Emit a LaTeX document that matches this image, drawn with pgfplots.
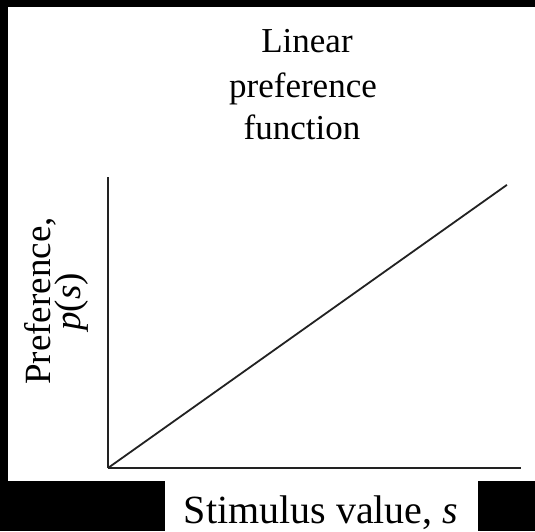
\documentclass[border=0pt]{standalone}
\usepackage{pgfplots}
\pgfplotsset{compat=1.18}
\usepackage{fontspec}
\setmainfont{Liberation Serif}
\definecolor{ink}{HTML}{222222}
\begin{document}
\begin{tikzpicture}[x=1pt,y=1pt]
\useasboundingbox (0,0) rectangle (535,531);
\fill[black] (0,0) rectangle (535,531);
\fill[white] (8,50) rectangle (535,524);
\fill[white] (165,0) rectangle (478,50);
\begin{axis}[
  at={(108pt,63pt)}, anchor=origin,
  scale only axis, width=413pt, height=291pt,
  xmin=0, xmax=1, ymin=0, ymax=1,
  axis x line=bottom, axis y line=left,
  axis line style={-, draw=ink, line width=2pt},
  xtick=\empty, ytick=\empty,
  clip=false,
]
\addplot[ink, line width=1.8pt] coordinates {(0,0) (0.966,0.973)};
\end{axis}
\node[anchor=base, inner sep=0pt, font=\fontsize{35}{42}\selectfont] at (307,478) {Linear};
\node[anchor=base, inner sep=0pt, font=\fontsize{35}{42}\selectfont] at (303,433) {preference};
\node[anchor=base, inner sep=0pt, font=\fontsize{35}{42}\selectfont] at (302,391) {function};
\node[anchor=base, rotate=90, inner sep=0pt, font=\fontsize{37}{44}\selectfont] at (50,230) {Preference,};
\node[anchor=base, rotate=90, inner sep=0pt, font=\fontsize{37}{44}\selectfont] at (80,229) {\textit{p}(\textit{s})};
\node[anchor=base, inner sep=0pt, font=\fontsize{40}{48}\selectfont] at (321,8) {Stimulus value, \textit{s}};
\end{tikzpicture}
\end{document}
